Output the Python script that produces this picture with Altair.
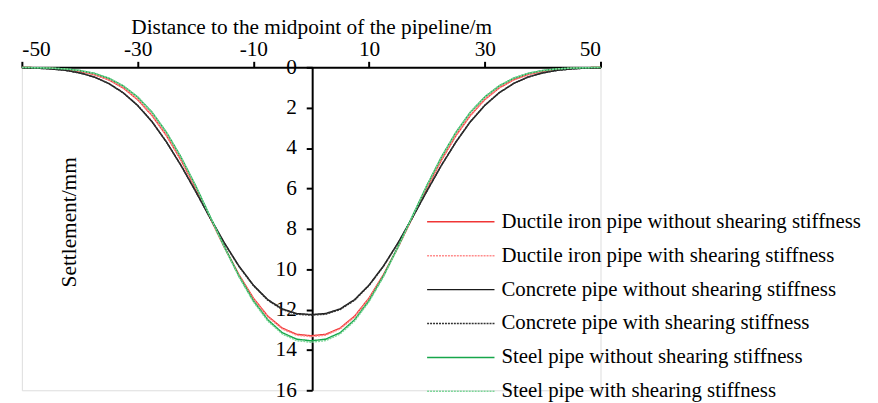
import altair as alt
import pandas as pd

# distance to the midpoint of the pipeline (m)
distance = [-50, -47.5, -45, -42.5, -40, -37.5, -35, -32.5, -30, -27.5, -25, -22.5,
            -20, -17.5, -15, -12.5, -10, -7.5, -5, -2.5, 0, 2.5, 5, 7.5, 10, 12.5,
            15, 17.5, 20, 22.5, 25, 27.5, 30, 32.5, 35, 37.5, 40, 42.5, 45, 47.5, 50]

# settlement (mm)
ductile_without = [0.01, 0.02, 0.05, 0.10, 0.20, 0.36, 0.62, 1.02, 1.60, 2.39, 3.39, 4.60,
                   5.98, 7.44, 8.91, 10.27, 11.43, 12.33, 12.92, 13.23, 13.30, 13.23, 12.92,
                   12.33, 11.43, 10.27, 8.91, 7.44, 5.98, 4.60, 3.39, 2.39, 1.60, 1.02, 0.62,
                   0.36, 0.20, 0.10, 0.05, 0.02, 0.01]
ductile_with = [0.01, 0.02, 0.05, 0.10, 0.20, 0.36, 0.61, 1.01, 1.59, 2.38, 3.38, 4.60,
                5.98, 7.45, 8.93, 10.30, 11.46, 12.37, 12.96, 13.27, 13.34, 13.27, 12.96,
                12.37, 11.46, 10.30, 8.93, 7.45, 5.98, 4.60, 3.38, 2.38, 1.59, 1.01, 0.61,
                0.36, 0.20, 0.10, 0.05, 0.02, 0.01]
concrete_without = [0.02, 0.04, 0.08, 0.15, 0.28, 0.48, 0.80, 1.26, 1.89, 2.70, 3.71, 4.86,
                    6.13, 7.44, 8.70, 9.84, 10.79, 11.51, 11.97, 12.20, 12.25, 12.20, 11.97,
                    11.51, 10.79, 9.84, 8.70, 7.44, 6.13, 4.86, 3.71, 2.70, 1.89, 1.26, 0.80,
                    0.48, 0.28, 0.15, 0.08, 0.04, 0.02]
concrete_with = [0.02, 0.04, 0.08, 0.15, 0.28, 0.48, 0.80, 1.26, 1.88, 2.69, 3.70, 4.86,
                 6.13, 7.45, 8.72, 9.86, 10.81, 11.54, 12.00, 12.23, 12.28, 12.23, 12.00,
                 11.54, 10.81, 9.86, 8.72, 7.45, 6.13, 4.86, 3.70, 2.69, 1.88, 1.26, 0.80,
                 0.48, 0.28, 0.15, 0.08, 0.04, 0.02]
steel_without = [0.01, 0.02, 0.04, 0.08, 0.16, 0.30, 0.54, 0.92, 1.47, 2.23, 3.23, 4.45,
                 5.85, 7.37, 8.89, 10.33, 11.56, 12.51, 13.15, 13.47, 13.55, 13.47, 13.15,
                 12.51, 11.56, 10.33, 8.89, 7.37, 5.85, 4.45, 3.23, 2.23, 1.47, 0.92, 0.54,
                 0.30, 0.16, 0.08, 0.04, 0.02, 0.01]
steel_with = [0.01, 0.02, 0.04, 0.08, 0.16, 0.30, 0.53, 0.91, 1.46, 2.22, 3.22, 4.45,
              5.86, 7.39, 8.92, 10.37, 11.61, 12.57, 13.21, 13.54, 13.62, 13.54, 13.21,
              12.57, 11.61, 10.37, 8.92, 7.39, 5.86, 4.45, 3.22, 2.22, 1.46, 0.91, 0.53,
              0.30, 0.16, 0.08, 0.04, 0.02, 0.01]

series_names = [
    "Ductile iron pipe without shearing stiffness",
    "Ductile iron pipe with shearing stiffness",
    "Concrete pipe without shearing stiffness",
    "Concrete pipe with shearing stiffness",
    "Steel pipe without shearing stiffness",
    "Steel pipe with shearing stiffness",
]
series_values = [ductile_without, ductile_with, concrete_without, concrete_with,
                 steel_without, steel_with]
series_colors = ["#F03535", "#FF8C8C", "#1A1A1A", "#333333", "#16A64A", "#7ED69A"]
series_dash = [[1, 0], [2, 1], [1, 0], [2, 1], [1, 0], [2, 1]]

x_ticks = [-50, -30, -10, 10, 30, 50]
y_ticks = [0, 2, 4, 6, 8, 10, 12, 14, 16]

rows = []
for name, vals in zip(series_names, series_values):
    for d, s in zip(distance, vals):
        rows.append({"series": name, "distance": d, "settlement": s})
df = pd.DataFrame(rows)

FONT = "Liberation Serif"
FS = 21.5

legend_cfg = alt.Legend(
    title=None,
    orient="none",
    legendX=408,
    legendY=144,
    symbolType="stroke",
    symbolSize=4624,
    symbolStrokeWidth=1.5,
    labelFont=FONT,
    labelFontSize=21,
    labelColor="black",
    labelOffset=6,
    labelLimit=0,
    clipHeight=24,
    rowPadding=10.2,
    padding=0,
)

chart = alt.Chart(df).mark_line(strokeWidth=1.5).encode(
    x=alt.X(
        "distance:Q",
        scale=alt.Scale(domain=[-50, 50], nice=False, zero=False),
        axis=alt.Axis(
            orient="top",
            values=x_ticks,
            labelExpr="'' + datum.value",
            title="Distance to the midpoint of the pipeline/m",
            grid=False,
            tickSize=6,
            tickWidth=2,
            tickColor="black",
            domainWidth=2,
            domainColor="black",
            labelFont=FONT,
            labelFontSize=FS,
            labelColor="black",
            labelPadding=1,
            titleFont=FONT,
            titleFontSize=FS,
            titleFontWeight="normal",
            titleColor="black",
            titlePadding=0,
        ),
    ),
    y=alt.Y(
        "settlement:Q",
        scale=alt.Scale(domain=[0, 16], reverse=True, nice=False, zero=False),
        axis=alt.Axis(
            orient="left",
            offset=-293,
            values=y_ticks,
            title="Settlement/mm",
            grid=False,
            tickSize=6,
            tickWidth=2,
            tickColor="black",
            domainWidth=2,
            domainColor="black",
            labelFont=FONT,
            labelFontSize=FS,
            labelColor="black",
            labelPadding=10,
            titleFont=FONT,
            titleFontSize=FS,
            titleFontWeight="normal",
            titleColor="black",
            titleX=-245,
            titleY=156,
            titleAngle=270,
            titleAlign="center",
            titleBaseline="middle",
        ),
    ),
    color=alt.Color(
        "series:N",
        scale=alt.Scale(domain=series_names, range=series_colors),
        sort=series_names,
        legend=legend_cfg,
    ),
    strokeDash=alt.StrokeDash(
        "series:N",
        scale=alt.Scale(domain=series_names, range=series_dash),
        sort=series_names,
        legend=legend_cfg,
    ),
).properties(
    width=584,
    height=326,
    autosize=alt.AutoSizeParams(type="none"),
    padding={"left": 14, "top": 58, "right": 272, "bottom": 11},
).configure_view(stroke=None).configure(background="white")

chart.save("out.html", embed_options={"renderer": "svg", "actions": False})
